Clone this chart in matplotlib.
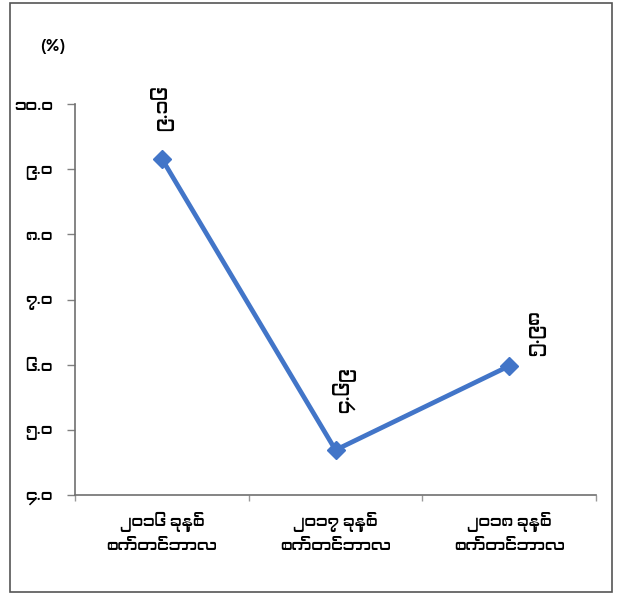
import matplotlib
matplotlib.use("Agg")
import matplotlib.pyplot as plt
from matplotlib import font_manager as fm
from matplotlib.patches import Rectangle
from matplotlib.ticker import FixedLocator, NullFormatter

# ---- data ----
categories = ["၂၀၁၆ ခုနှစ်\nစက်တင်ဘာလ",
              "၂၀၁၇ ခုနှစ်\nစက်တင်ဘာလ",
              "၂၀၁၈ ခုနှစ်\nစက်တင်ဘာလ"]
values = [9.16, 4.69, 5.98]
y_ticks = [4, 5, 6, 7, 8, 9, 10]
y_tick_labels = ["၄.၀", "၅.၀", "၆.၀", "၇.၀", "၈.၀", "၉.၀", "၁၀.၀"]
unit_label = "(%)"

# label offsets (points) for data labels
label_offsets = [(0, 20), (6, 27), (20, 7)]

# ---- fonts ----
myan = None
for f in fm.fontManager.ttflist:
    n = (f.name + " " + f.fname).lower()
    if "myanmar" in n or "padauk" in n:
        myan = f.name
        break
families = ([myan] if myan else []) + ["DejaVu Sans"]
plt.rcParams["font.family"] = families

MY_DIGITS = str.maketrans("0123456789", "၀၁၂၃၄၅၆၇၈၉")

def to_my(v):
    return f"{v:.2f}".translate(MY_DIGITS)

W, H = 618, 597
fig = plt.figure(figsize=(W / 100, H / 100), dpi=100)
fig.patch.set_facecolor("white")

# outer frame
fig.patches.append(Rectangle((10 / W, 1 - 592 / H), (612 - 10) / W, (592 - 3) / H,
                             transform=fig.transFigure, fill=False,
                             edgecolor="#555555", linewidth=1.2))

ax = fig.add_axes([75 / W, 1 - 495 / H, (596 - 75) / W, (495 - 104) / H])
x = list(range(len(categories)))
ax.plot(x, values, color="#4275C8", linewidth=3.4, marker="D",
        markersize=9.5, markerfacecolor="#4275C8", markeredgecolor="#4275C8",
        solid_joinstyle="miter")

ax.set_xlim(-0.5, len(categories) - 0.5)
ax.set_ylim(min(y_ticks), max(y_ticks))

ax.set_yticks(y_ticks)
ax.set_yticklabels(y_tick_labels, fontsize=11.5, fontweight="bold")
ax.tick_params(axis="y", direction="out", length=6, width=1, color="#808080", pad=10)

ax.set_xticks(x)
ax.set_xticklabels(categories, fontsize=11.5, fontweight="bold", linespacing=1.5)
ax.tick_params(axis="x", which="major", length=0, pad=12)
ax.xaxis.set_minor_locator(FixedLocator([i - 0.5 for i in range(len(categories) + 1)]))
ax.xaxis.set_minor_formatter(NullFormatter())
ax.tick_params(axis="x", which="minor", direction="out", length=4, width=1, color="#999999")

for s in ["top", "right"]:
    ax.spines[s].set_visible(False)
for s in ["left", "bottom"]:
    ax.spines[s].set_color("#707070")
    ax.spines[s].set_linewidth(1.2)

for xi, v, off in zip(x, values, label_offsets):
    ax.annotate(to_my(v), (xi, v), xytext=off, textcoords="offset points",
                rotation=90, ha="center", va="bottom", fontsize=13.5,
                fontweight="bold")

fig.text(53 / W, 1 - 46 / H, unit_label, ha="center", va="center",
         fontsize=12.5, fontweight="bold")

fig.savefig("out.png", dpi=100)
